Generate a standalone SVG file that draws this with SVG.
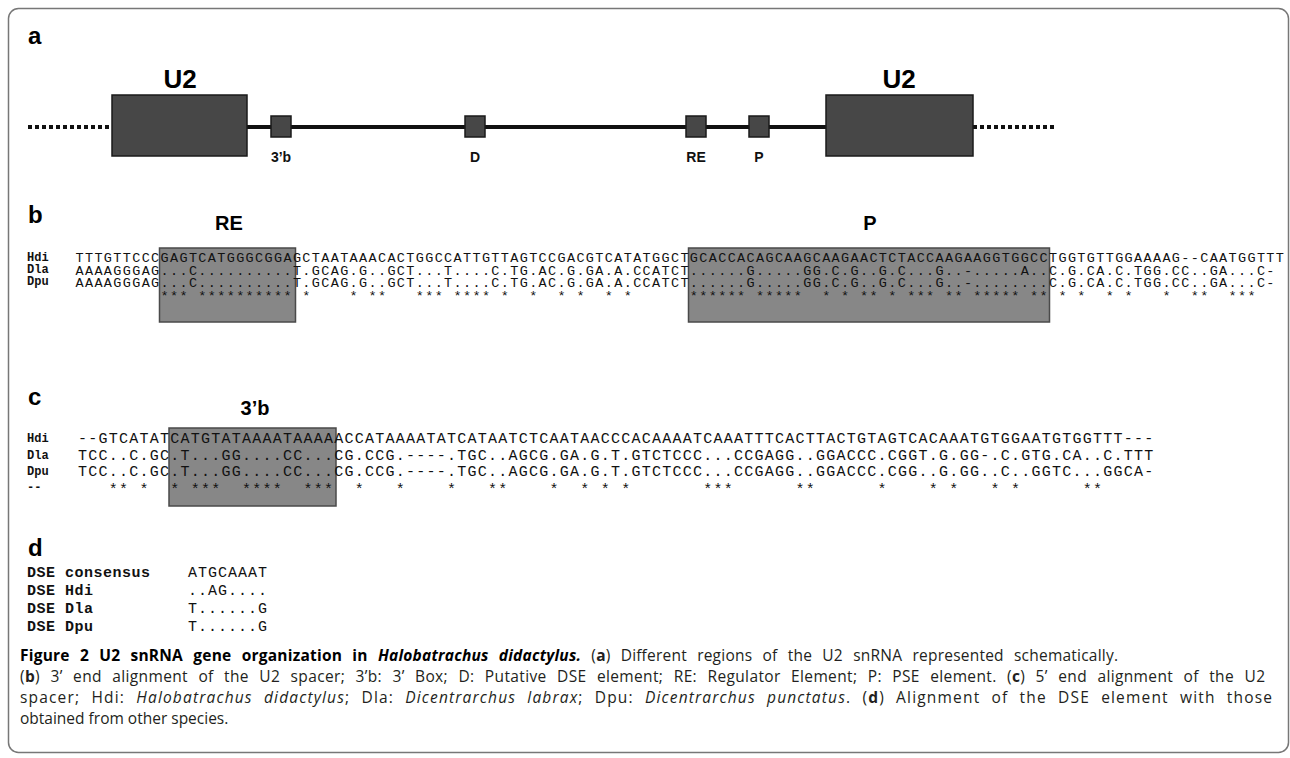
<svg xmlns="http://www.w3.org/2000/svg" width="1290" height="758" viewBox="0 0 1290 758">
<style>
.hd{font-family:"Liberation Sans",Arial,sans-serif;font-weight:bold;fill:#000}
.lbl{font-family:"Liberation Sans",Arial,sans-serif;font-weight:bold;font-size:14px;fill:#111;text-anchor:middle}
.seqb{font-family:"Liberation Mono","Courier New",monospace;font-size:13.5px;letter-spacing:1.35px;fill:#111;white-space:pre}
.seqc{font-family:"Liberation Mono","Courier New",monospace;font-size:15px;letter-spacing:1.25px;fill:#111;white-space:pre}
.sp{font-family:"Liberation Mono","Courier New",monospace;font-weight:bold;font-size:12px;fill:#111}
.dl{font-family:"Liberation Mono","Courier New",monospace;font-weight:bold;font-size:15px;letter-spacing:0.5px;fill:#111;white-space:pre}
.dv{font-family:"Liberation Mono","Courier New",monospace;font-size:15px;letter-spacing:1px;fill:#111}
.hl{fill:#878787;stroke:#4a4a4a;stroke-width:1.5}
.gene{fill:#474747;stroke:#1a1a1a;stroke-width:1.5}
.cap{font-family:"Open Sans","Liberation Sans",sans-serif;font-size:15.5px;fill:#231f20}
.j{word-spacing:6px}
.b{font-weight:bold}
.i{font-style:italic}
</style>
<rect x="8.5" y="8.5" width="1280" height="744" rx="10" fill="none" stroke="#777" stroke-width="1.5"/>

<!-- panel a -->
<text class="hd" x="28" y="44" font-size="24">a</text>
<g id="connectors">
<line x1="28" y1="127" x2="111" y2="127" stroke="#111" stroke-width="4" stroke-dasharray="4 3"/>
<line x1="247" y1="127" x2="826" y2="127" stroke="#111" stroke-width="4"/>
<line x1="973" y1="127" x2="1056" y2="127" stroke="#111" stroke-width="4" stroke-dasharray="4 3"/>
</g>
<g id="u2-left">
<rect class="gene" x="112" y="95" width="135" height="61"/>
<text class="hd" x="180" y="88" font-size="26" text-anchor="middle">U2</text>
</g>
<g id="box-3b">
<rect class="gene" x="271" y="116" width="20" height="21"/>
<text class="lbl" x="281" y="162">3’b</text>
</g>
<g id="box-D">
<rect class="gene" x="465" y="116" width="20" height="21"/>
<text class="lbl" x="475" y="162">D</text>
</g>
<g id="box-RE">
<rect class="gene" x="686" y="116" width="20" height="21"/>
<text class="lbl" x="696" y="162">RE</text>
</g>
<g id="box-P">
<rect class="gene" x="749" y="116" width="20" height="21"/>
<text class="lbl" x="759" y="162">P</text>
</g>
<g id="u2-right">
<rect class="gene" x="826" y="95" width="147" height="61"/>
<text class="hd" x="899" y="88" font-size="26" text-anchor="middle">U2</text>
</g>

<!-- panel b -->
<g id="panel-b">
<text class="hd" x="28" y="223" font-size="24">b</text>
<rect class="hl" x="159.5" y="248" width="136" height="74"/>
<rect class="hl" x="688.5" y="248" width="361" height="74"/>
<text class="hd" x="229" y="230" font-size="20" text-anchor="middle">RE</text>
<text class="hd" x="870" y="230" font-size="20" text-anchor="middle">P</text>
<text class="sp" x="27" y="261">Hdi</text>
<text class="sp" x="27" y="273">Dla</text>
<text class="sp" x="27" y="285">Dpu</text>
<text class="seqb" x="75.5" y="262" xml:space="preserve">TTTGTTCCCGAGTCATGGGCGGAGCTAATAAACACTGGCCATTGTTAGTCCGACGTCATATGGCTGCACCACAGCAAGCAAGAACTCTACCAAGAAGGTGGCCTGGTGTTGGAAAAG--CAATGGTTT</text>
<text class="seqb" x="75.5" y="274.5" xml:space="preserve">AAAAGGGAG...C..........T.GCAG.G..GCT...T....C.TG.AC.G.GA.A.CCATCT......G.....GG.C.G..G.C...G..-.....A..C.G.CA.C.TGG.CC..GA...C-</text>
<text class="seqb" x="75.5" y="287" xml:space="preserve">AAAAGGGAG...C..........T.GCAG.G..GCT...T....C.TG.AC.G.GA.A.CCATCT......G.....GG.C.G..G.C...G..-........C.G.CA.C.TGG.CC..GA...C-</text>
<text class="seqb" x="75.5" y="300" xml:space="preserve">         *** ********** *    * **   *** **** *  *  * *  * *      ****** *****  * * ** * *** ** ***** ** * *  * *   *  **  ***</text>
</g>

<!-- panel c -->
<g id="panel-c">
<text class="hd" x="28" y="405" font-size="24">c</text>
<rect class="hl" x="169" y="428" width="167" height="78"/>
<text class="hd" x="255" y="415" font-size="20" text-anchor="middle">3’b</text>
<text class="sp" x="27" y="442">Hdi</text>
<text class="sp" x="27" y="459">Dla</text>
<text class="sp" x="27" y="475">Dpu</text>
<text class="sp" x="27" y="491">--</text>
<text class="seqc" x="78" y="443" xml:space="preserve">--GTCATATCATGTATAAAATAAAAACCATAAAATATCATAATCTCAATAACCCACAAAATCAAATTTCACTTACTGTAGTCACAAATGTGGAATGTGGTTT---</text>
<text class="seqc" x="78" y="460" xml:space="preserve">TCC..C.GC.T...GG....CC...CG.CCG.----.TGC..AGCG.GA.G.T.GTCTCCC...CCGAGG..GGACCC.CGGT.G.GG-.C.GTG.CA..C.TTT</text>
<text class="seqc" x="78" y="476" xml:space="preserve">TCC..C.GC.T...GG....CC...CG.CCG.----.TGC..AGCG.GA.G.T.GTCTCCC...CCGAGG..GGACCC.CGG..G.GG..C..GGTC...GGCA-</text>
<text class="seqc" x="78" y="494" xml:space="preserve">   ** *  * ***  ****  ***  *   *    *   **    *  * * *       ***      **      *    * *   * *      **</text>
</g>

<!-- panel d -->
<g id="panel-d">
<text class="hd" x="28" y="556" font-size="24">d</text>
<text class="dl" x="27" y="577" xml:space="preserve">DSE consensus</text>
<text class="dl" x="27" y="595" xml:space="preserve">DSE Hdi</text>
<text class="dl" x="27" y="613" xml:space="preserve">DSE Dla</text>
<text class="dl" x="27" y="631" xml:space="preserve">DSE Dpu</text>
<text class="dv" x="188" y="577">ATGCAAAT</text>
<text class="dv" x="188" y="595">..AG....</text>
<text class="dv" x="188" y="613">T......G</text>
<text class="dv" x="188" y="631">T......G</text>
</g>

<!-- caption -->
<g id="caption">
<text class="cap j" x="20" y="661" textLength="1098" lengthAdjust="spacing"><tspan class="b" fill="#000">Figure 2 U2 snRNA gene organization in </tspan><tspan class="b i" fill="#000">Halobatrachus didactylus.</tspan> (<tspan class="b">a</tspan>) Different regions of the U2 snRNA represented schematically.</text>
<text class="cap j" x="20" y="682" textLength="1245" lengthAdjust="spacing">(<tspan class="b">b</tspan>) 3’ end alignment of the U2 spacer; 3’b: 3’ Box; D: Putative DSE element; RE: Regulator Element; P: PSE element. (<tspan class="b">c</tspan>) 5’ end alignment of the U2</text>
<text class="cap j" x="20" y="703" textLength="1252" lengthAdjust="spacing">spacer; Hdi: <tspan class="i">Halobatrachus didactylus</tspan>; Dla: <tspan class="i">Dicentrarchus labrax</tspan>; Dpu: <tspan class="i">Dicentrarchus punctatus</tspan>. (<tspan class="b">d</tspan>) Alignment of the DSE element with those</text>
<text class="cap" x="20" y="724" font-size="14">obtained from other species.</text>
</g>
</svg>
